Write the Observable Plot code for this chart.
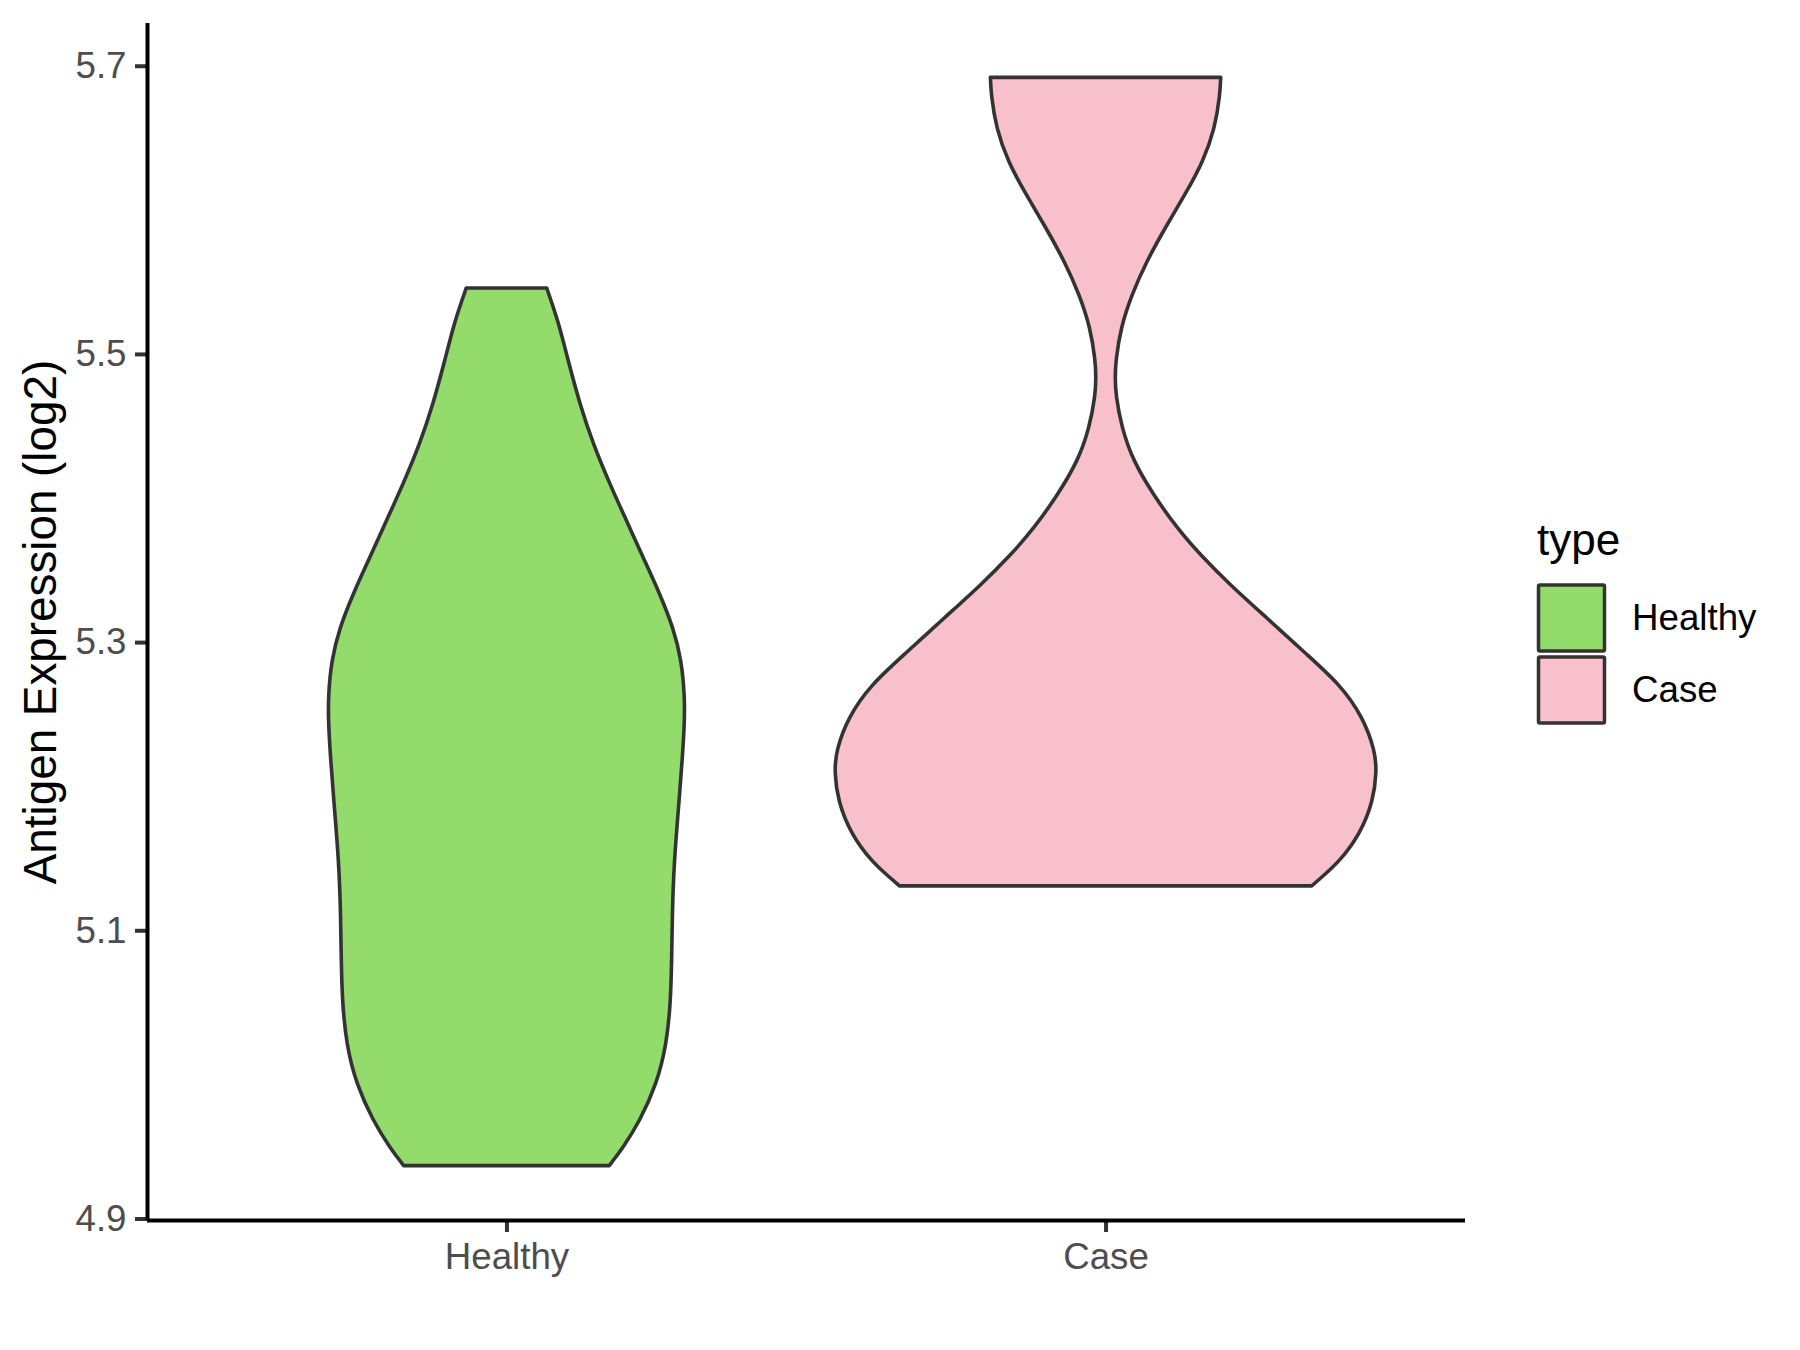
<!DOCTYPE html>
<html>
<head>
<meta charset="utf-8">
<script src="https://cdn.jsdelivr.net/npm/d3@7"></script>
<script src="https://cdn.jsdelivr.net/npm/@observablehq/plot@0.6"></script>
<style>
  html, body { margin: 0; padding: 0; background: #fff; }
  #wrap { position: relative; width: 1800px; height: 1350px; }
  #legend { position: absolute; left: 0; top: 0; }
</style>
</head>
<body>
<div id="wrap"></div>
<script>
// ---- data ----
const categories = ["Healthy", "Case"];
const fillColors = ["#93DB6A", "#F8C0CB"];
const yTicks = [4.9, 5.1, 5.3, 5.5, 5.7];
const yTitle = "Antigen Expression (log2)";
const legendTitle = "type";

// violin outlines: expression value (top -> bottom) and half width (fraction of category spacing)
const healthyValues = [5.5458, 5.5227, 5.4949, 5.4649, 5.4372, 5.4094, 5.3840, 5.3585, 5.3332, 5.3100, 5.2869, 5.2615, 5.2453, 5.2222, 5.1829, 5.1482, 5.1135, 5.0789, 5.0511, 5.0211, 4.9933, 4.9679, 4.9494, 4.9367];
const healthyHalfWidths = [0.0671, 0.0865, 0.1032, 0.1227, 0.1449, 0.1728, 0.2007, 0.2284, 0.2563, 0.2785, 0.2925, 0.2975, 0.2972, 0.2942, 0.2868, 0.2800, 0.2768, 0.2758, 0.2741, 0.2674, 0.2508, 0.2229, 0.1950, 0.1716];

const caseValues = [5.6919, 5.6799, 5.6567, 5.6336, 5.6105, 5.5874, 5.5643, 5.5412, 5.5180, 5.4949, 5.4838, 5.4718, 5.4487, 5.4256, 5.4025, 5.3793, 5.3597, 5.3401, 5.3169, 5.2915, 5.2707, 5.2476, 5.2245, 5.2106, 5.1898, 5.1667, 5.1482, 5.1378, 5.1308];
const caseHalfWidths = [0.1922, 0.1910, 0.1826, 0.1631, 0.1326, 0.0992, 0.0686, 0.0436, 0.0252, 0.0169, 0.0160, 0.0169, 0.0269, 0.0462, 0.0796, 0.1187, 0.1600, 0.2070, 0.2689, 0.3357, 0.3913, 0.4302, 0.4497, 0.4526, 0.4469, 0.4247, 0.3913, 0.3634, 0.3441];

// ---- build table ----
const series = [
  {values: healthyValues, widths: healthyHalfWidths},
  {values: caseValues, widths: caseHalfWidths}
];
const rows = [];
series.forEach((s, i) => {
  s.values.forEach((v, j) => {
    rows.push({type: categories[i], y: v, x1: i + 1 - s.widths[j], x2: i + 1 + s.widths[j]});
  });
});

// ggplot-like scale expansion
const allValues = rows.map(d => d.y);
const yMin = d3.min(allValues), yMax = d3.max(allValues);
const yPad = 0.05 * (yMax - yMin);
const yDomain = [yMin - yPad, yMax + yPad];
const xDomain = [1 - 0.6, categories.length + 0.6];
const positions = categories.map((c, i) => i + 1);

const font = "'Liberation Sans', Arial, Helvetica, sans-serif";

const chart = Plot.plot({
  width: 1800,
  height: 1350,
  marginLeft: 147,
  marginRight: 335,
  marginTop: 23,
  marginBottom: 130,
  style: {fontFamily: font, background: "white", overflow: "visible"},
  x: {domain: xDomain, label: null},
  y: {domain: yDomain, label: null},
  color: {domain: categories, range: fillColors},
  marks: [
    Plot.areaX(rows, {
      y: "y", x1: "x1", x2: "x2", z: "type", fill: "type",
      stroke: "#333333", strokeWidth: 3.6, strokeLinejoin: "round",
      curve: "basis"
    }),
    Plot.axisY(yTicks, {
      tickFormat: d3.format(".1f"), tickSize: 12, tickPadding: 9,
      fontSize: 36.7, fill: "#4D4D4D", stroke: "#333333", strokeWidth: 4, label: null
    }),
    Plot.axisX(positions, {
      tickFormat: d => categories[d - 1], tickSize: 12, tickPadding: 10,
      fontSize: 36.7, fill: "#4D4D4D", stroke: "#333333", strokeWidth: 4, label: null
    }),
    Plot.ruleX([xDomain[0]], {stroke: "black", strokeWidth: 4}),
    Plot.ruleY([yDomain[0]], {stroke: "black", strokeWidth: 4}),
    Plot.text([yTitle], {
      text: d => d, frameAnchor: "left", rotate: -90, dx: -92,
      lineAnchor: "bottom", textAnchor: "middle", fontSize: 45.8, fill: "black"
    })
  ]
});

const wrap = document.getElementById("wrap");
wrap.appendChild(chart);

// ---- legend (right side) ----
const legend = d3.create("svg")
  .attr("id", "legend")
  .attr("width", 1800).attr("height", 1350)
  .style("font-family", font);
legend.append("text")
  .attr("x", 1537).attr("y", 555)
  .attr("font-size", 44).attr("fill", "black")
  .text(legendTitle);
categories.forEach((c, i) => {
  const top = 585 + i * 72;
  legend.append("rect")
    .attr("x", 1538.5).attr("y", top)
    .attr("width", 66).attr("height", 66)
    .attr("rx", 1.5)
    .attr("fill", fillColors[i])
    .attr("stroke", "#333333").attr("stroke-width", 3.5);
  legend.append("text")
    .attr("x", 1632).attr("y", top + 45)
    .attr("font-size", 36.7).attr("fill", "black")
    .text(c);
});
wrap.appendChild(legend.node());
</script>
</body>
</html>
